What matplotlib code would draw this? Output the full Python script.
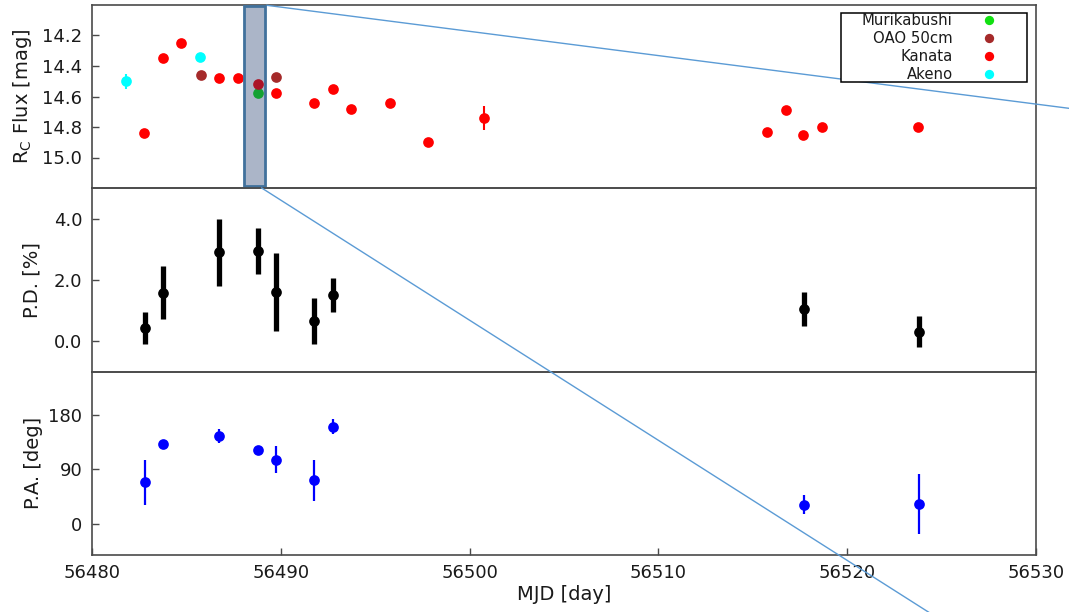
import matplotlib
matplotlib.use("Agg")
import matplotlib.pyplot as plt
from matplotlib.lines import Line2D
from matplotlib.patches import Rectangle

plt.rcParams['font.family'] = ['DejaVu Sans']
plt.rcParams['mathtext.default'] = 'regular'

# ---------------- data ----------------
# R_C photometry [mag]
mur_mjd = [56488.78]
mur_mag = [14.58]
mur_err = [0.02]

oao_mjd = [56485.79, 56489.76]
oao_mag = [14.46, 14.47]
oao_err = [0.02, 0.02]

kan_mjd = [56482.78, 56483.78, 56484.71, 56486.73, 56487.72, 56488.78, 56489.76,
           56491.76, 56492.76, 56493.70, 56495.78, 56497.81, 56500.75,
           56515.73, 56516.74, 56517.67, 56518.66, 56523.77]
kan_mag = [14.84, 14.35, 14.25, 14.48, 14.48, 14.52, 14.58,
           14.64, 14.55, 14.68, 14.64, 14.90, 14.74,
           14.83, 14.69, 14.85, 14.80, 14.80]
kan_err = [0.02, 0.02, 0.02, 0.02, 0.02, 0.02, 0.02,
           0.02, 0.02, 0.02, 0.02, 0.02, 0.08,
           0.02, 0.02, 0.02, 0.02, 0.02]

ake_mjd = [56481.78, 56485.72]
ake_mag = [14.50, 14.34]
ake_err = [0.05, 0.02]

# polarization
pol_mjd = [56482.80, 56483.78, 56486.73, 56488.78, 56489.77, 56491.76, 56492.78,
           56517.70, 56523.79]
pd_val = [0.44, 1.59, 2.90, 2.94, 1.60, 0.67, 1.51, 1.05, 0.32]
pd_err = [0.52, 0.87, 1.09, 0.74, 1.27, 0.75, 0.54, 0.56, 0.52]
pa_val = [69, 132, 145, 121, 106, 72, 160, 32, 33]
pa_err = [37, 4, 11, 4, 22, 34, 12, 16, 50]

xticks = [56480, 56490, 56500, 56510, 56520, 56530]
mag_ticks = [14.2, 14.4, 14.6, 14.8, 15.0]
pd_ticks = [0.0, 2.0, 4.0]
pa_ticks = [0, 90, 180]

# ---------------- figure ----------------
W, H = 1069, 612
fig = plt.figure(figsize=(W / 100, H / 100), dpi=100)

left = 92 / W
width = (1036 - 92) / W
y_top, y_1, y_2, y_bot = 5, 188, 372, 554.5


def frac(y):
    return 1 - y / H


ax1 = fig.add_axes([left, frac(y_1), width, frac(y_top) - frac(y_1)])
ax2 = fig.add_axes([left, frac(y_2), width, frac(y_1) - frac(y_2)])
ax3 = fig.add_axes([left, frac(y_bot), width, frac(y_2) - frac(y_bot)])

spine_col = '#4a4a4a'
txt_col = '#1a1a1a'
for ax in (ax1, ax2, ax3):
    ax.set_facecolor('none')
    ax.set_xlim(56480, 56530)
    ax.set_xticks(xticks)
    for s in ax.spines.values():
        s.set_color(spine_col)
        s.set_linewidth(1.2)
    ax.tick_params(axis='both', direction='in', length=5, width=1.0,
                   color=spine_col, labelsize=13, labelcolor=txt_col, pad=7,
                   right=False, top=False)
ax1.tick_params(axis='x', bottom=False, labelbottom=False)
ax2.tick_params(axis='x', bottom=False, labelbottom=False)

ms = 7.7
kw = dict(fmt='o', ms=ms, mew=0, capsize=0, elinewidth=1.5)
m = ax1.errorbar(mur_mjd, mur_mag, yerr=mur_err, color='#11e011', label='Murikabushi', **kw)
o = ax1.errorbar(oao_mjd, oao_mag, yerr=oao_err, color='#a52a2a', label='OAO 50cm', **kw)
k = ax1.errorbar(kan_mjd, kan_mag, yerr=kan_err, color='#ff0000', label='Kanata', **kw)
a = ax1.errorbar(ake_mjd, ake_mag, yerr=ake_err, color='#00ffff', label='Akeno', **kw)
ax1.set_ylim(15.2, 14.0)
ax1.set_yticks(mag_ticks)
ax1.set_yticklabels([f'{v:.1f}' for v in mag_ticks])
ax1.set_ylabel(r'R$_{\mathregular{C}}$ Flux [mag]', fontsize=14, color=txt_col)
ax1.yaxis.set_label_coords(-0.0614, 0.5)

ax2.errorbar(pol_mjd, pd_val, yerr=pd_err, fmt='o', color='black', ms=ms, mew=0,
             capsize=0, elinewidth=3.8)
ax2.set_ylim(-1.0, 5.0)
ax2.set_yticks(pd_ticks)
ax2.set_yticklabels([f'{v:.1f}' for v in pd_ticks])
ax2.set_ylabel('P.D. [%]', fontsize=14, color=txt_col)
ax2.yaxis.set_label_coords(-0.053, 0.5)

ax3.errorbar(pol_mjd, pa_val, yerr=pa_err, fmt='o', color='#0000ff', ms=ms, mew=0,
             capsize=0, elinewidth=1.6)
ax3.set_ylim(-50, 250)
ax3.set_yticks(pa_ticks)
ax3.set_ylabel('P.A. [deg]', fontsize=14, color=txt_col)
ax3.yaxis.set_label_coords(-0.052, 0.5)
ax3.set_xlabel('MJD [day]', fontsize=14, color=txt_col, labelpad=2)

# highlighted interval
ax1.axvspan(56488.03, 56489.16, ymin=0.01, ymax=0.995, facecolor='#1b366b',
            alpha=0.37, edgecolor='none', zorder=6, clip_on=False)
ax1.axvspan(56488.03, 56489.16, ymin=0.01, ymax=0.995, facecolor='none',
            edgecolor='#41719c', linewidth=2.0, zorder=6.1, clip_on=False)

# zoom guide lines
l1 = Line2D([266.7 / W, 1283 / W], [frac(5.3), frac(135.8)], transform=fig.transFigure,
            color='#5b9bd5', linewidth=1.0, clip_on=False, zorder=4)
ax1.add_artist(l1)
l2 = Line2D([261.7 / W, 1066.7 / W], [frac(188), frac(700)], transform=fig.transFigure,
            color='#5b9bd5', linewidth=1.0, clip_on=False, zorder=10)
fig.add_artist(l2)

# legend
fx0 = (841 - 92) / 944
fx1 = (1026.7 - 92) / 944
fy1 = (188 - 13.3) / 183
fy0 = (188 - 81.7) / 183
ax1.add_patch(Rectangle((fx0, fy0), fx1 - fx0, fy1 - fy0, transform=ax1.transAxes,
                        facecolor='white', edgecolor='black', linewidth=1.1,
                        zorder=4.5, clip_on=False))
leg = ax1.legend(handles=[m[0], o[0], k[0], a[0]],
                 labels=['Murikabushi', 'OAO 50cm', 'Kanata', 'Akeno'],
                 loc='upper right', bbox_to_anchor=((996.4 - 92) / 944, (188 - 13.0) / 183),
                 frameon=False, markerfirst=False, fontsize=10.7, borderpad=0,
                 borderaxespad=0, handlelength=1.0, handletextpad=1.94,
                 labelspacing=0.2, markerscale=0.87)
leg.set_zorder(5)
for t in leg.get_texts():
    t.set_color(txt_col)

fig.savefig('out.png', dpi=100)
